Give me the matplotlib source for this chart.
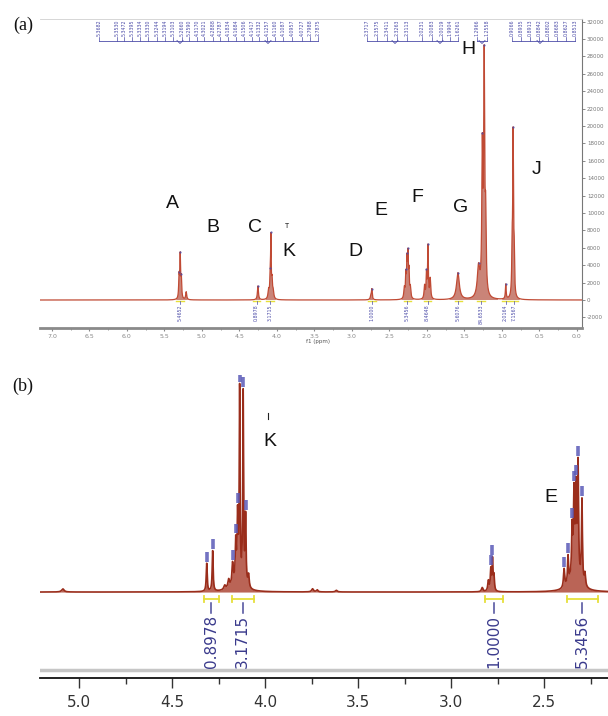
import numpy as np
import matplotlib
matplotlib.use("Agg")
import matplotlib.pyplot as plt
from matplotlib.lines import Line2D
from matplotlib.ticker import MultipleLocator, FormatStrFormatter

# ---------------------------------------------------------------- data (a)
a_shift = [5.305, 5.290, 5.275, 5.210, 4.253, 4.110, 4.090, 4.080, 4.065, 4.050,
           2.745, 2.733, 2.300, 2.280, 2.265, 2.252, 2.238, 2.220, 2.030, 2.005,
           1.985, 1.955, 1.585, 1.310, 1.260, 1.235, 1.215, 0.947, 0.862, 0.849, 0.835]
a_height = [2500, 4900, 2200, 900, 1600, 1000, 2000, 6800, 1800, 900,
            500, 1100, 1200, 2500, 4000, 4600, 2800, 1200, 1500, 2800,
            6000, 2300, 3100, 3500, 16000, 26500, 8000, 1700, 5000, 18300, 4500]
a_hwhm = [0.006, 0.006, 0.006, 0.008, 0.008, 0.010, 0.006, 0.005, 0.006, 0.010,
          0.010, 0.006, 0.008, 0.006, 0.006, 0.006, 0.006, 0.008, 0.008, 0.006,
          0.006, 0.008, 0.022, 0.020, 0.008, 0.008, 0.008, 0.006, 0.006, 0.006, 0.006]
a_letters = ["A", "B", "C", "T", "K", "D", "E", "F", "G", "H", "J"]
a_yticks = list(range(-2000, 32001, 2000))
a_top_labels = ["5.3682", "5.3530", "5.3472", "5.3395", "5.3334", "5.3330", "5.3244",
                "5.3194", "5.3103", "5.2660", "5.2590", "4.3170", "4.3021", "4.2888",
                "4.2787", "4.1834", "4.1684", "4.1506", "4.1417", "4.1332", "4.1257",
                "4.1160", "4.1087", "4.0957", "4.0727", "2.7988", "2.7875",
                "2.3717", "2.3575", "2.3411", "2.3263", "2.3113", "2.0231", "2.0083",
                "2.0019", "1.9904", "1.6261", "1.2966", "1.2558",
                "0.9066", "0.8935", "0.8913", "0.8842", "0.8802", "0.8683", "0.8627",
                "0.8513"]
a_integrals = ["5.4652", "0.8978", "3.1715", "1.0000", "5.3456", "8.4648",
               "5.6076", "84.6533", "2.0164", "7.1567"]
a_integral_ppm = [5.29, 4.27, 4.09, 2.73, 2.26, 1.99, 1.58, 1.28, 0.95, 0.84]
a_picks = [5.305, 5.290, 5.275, 4.253, 4.090, 4.080, 2.733, 2.280, 2.265, 2.252,
           2.005, 1.985, 1.585, 1.310, 1.260, 1.235, 0.947, 0.849]

# ---------------------------------------------------------------- data (b)
b_shift = [5.087, 4.314, 4.282, 4.217, 4.196, 4.175, 4.158, 4.148, 4.137, 4.118,
           4.105, 4.089, 4.150, 3.745, 3.720, 3.617, 2.833, 2.800, 2.787, 2.778,
           2.770, 2.393, 2.372, 2.350, 2.340, 2.329, 2.318, 2.297, 2.281, 2.335]
b_height = [1.5, 13.5, 19.5, 2, 4, 10, 18, 30, 92, 92,
            33, 6, 5, 1.5, 1.0, 0.8, 2, 5, 10, 15,
            7, 9, 13, 21, 34, 36, 52, 40, 6, 14]
b_hwhm = [0.008, 0.003, 0.003, 0.006, 0.005, 0.004, 0.003, 0.003, 0.0025, 0.0025,
          0.003, 0.004, 0.030, 0.006, 0.005, 0.006, 0.005, 0.004, 0.003, 0.003,
          0.003, 0.004, 0.003, 0.003, 0.003, 0.003, 0.003, 0.003, 0.004, 0.022]
b_picks = [4.314, 4.282, 4.175, 4.158, 4.148, 4.137, 4.118, 4.105, 2.787, 2.778,
           2.393, 2.372, 2.350, 2.340, 2.329, 2.318, 2.297]
b_integrals = ["0.8978", "3.1715", "1.0000", "5.3456"]
b_int_ranges = [(4.33, 4.25), (4.18, 4.06), (2.82, 2.72), (2.38, 2.21)]
b_letters = ["K", "E"]
b_ticks = [5.0, 4.5, 4.0, 3.5, 3.0, 2.5]

# ---------------------------------------------------------------- helpers
W, H = 608, 716
fig = plt.figure(figsize=(W / 100, H / 100), dpi=100)
BLUE = "#4c4ca8"
YEL = "#e6df3a"
SANS = ["Liberation Sans", "DejaVu Sans"]


def rect(l, t, r, b):
    return [l / W, 1 - b / H, (r - l) / W, (b - t) / H]


def fx(x):
    return x / W


def fy(y):
    return 1 - y / H


def fline(xs, ys, **kw):
    fig.add_artist(Line2D([fx(v) for v in xs], [fy(v) for v in ys],
                          transform=fig.transFigure, **kw))


def spectrum(x, shifts, heights, widths):
    y = np.zeros_like(x)
    for s, h, w in zip(shifts, heights, widths):
        y += h * w ** 2 / ((x - s) ** 2 + w ** 2)
    return y


# ---------------------------------------------------------------- panel (a)
axa = fig.add_axes(rect(40, 19, 582, 328))
xa = np.linspace(7.16, -0.07, 12000)
ya = spectrum(xa, a_shift, a_height, a_hwhm)
axa.plot(xa, ya, color="#c04a34", lw=0.9)
axa.fill_between(xa, 0, ya, where=ya > 150, color="#a8321f", alpha=0.6, lw=0)
pk = np.array(a_picks)
axa.plot(pk, spectrum(pk, a_shift, a_height, a_hwhm), "o", ms=1.6,
         color=BLUE, mec="none", alpha=0.8)
axa.set_xlim(7.16, -0.07)
axa.set_ylim(-3218, 32300)
axa.spines["left"].set_visible(False)
axa.spines["top"].set_color("#d0d0d0")
axa.spines["top"].set_linewidth(0.6)
axa.spines["right"].set_color("#777777")
axa.spines["right"].set_linewidth(0.8)
axa.spines["bottom"].set_color("#8a8a8a")
axa.spines["bottom"].set_linewidth(2.0)
axa.yaxis.tick_right()
axa.set_yticks(a_yticks)
axa.set_yticklabels([str(v) for v in a_yticks])
axa.tick_params(axis="y", direction="out", length=2, width=0.6, labelsize=4,
                colors="#777777", pad=1.5)
axa.xaxis.set_major_locator(MultipleLocator(0.5))
axa.xaxis.set_minor_locator(MultipleLocator(0.25))
axa.xaxis.set_major_formatter(FormatStrFormatter("%.1f"))
axa.tick_params(axis="x", which="major", direction="out", length=2.5, width=0.8,
                labelsize=4.5, colors="#888888", pad=2)
axa.tick_params(axis="x", which="minor", direction="out", length=1.5, width=0.6,
                colors="#888888")
fig.text(fx(318), fy(341), "f1 (ppm)", fontsize=4, color="#555555",
         ha="center", va="center")

# top peak-list labels (layout positions in px)
top_px = [99, 117, 124, 132, 140, 148, 157, 165, 173, 182, 189, 197, 204, 213, 220,
          228, 236, 244, 252, 259, 267, 275, 283, 292, 302, 310, 318,
          367, 377, 387, 397, 407, 422, 432, 442, 450, 458,
          477, 487,
          512, 521, 530, 539, 548, 557, 566, 575]
groups = [(0, 27), (27, 37), (37, 39), (39, 47)]
for s, x in zip(a_top_labels, top_px):
    fig.text(fx(x), fy(36.5), s, rotation=90, ha="center", va="bottom",
             fontsize=3.4, color=BLUE, family="DejaVu Sans")
    fline([x, x], [37, 40.5], color=BLUE, lw=0.5)
for g0, g1 in groups:
    xs = top_px[g0:g1]
    fline([xs[0], xs[-1]], [40.5, 40.5], color=BLUE, lw=0.6)
for vx in [180, 268, 395, 440, 482, 540]:
    fline([vx - 3, vx, vx + 3], [40.5, 43.5, 40.5], color=BLUE, lw=0.6)

# integration marks below baseline
for s, p in zip(a_integrals, a_integral_ppm):
    axa.plot([p + 0.05, p - 0.05], [-150, -150], color=YEL, lw=1.0)
    axa.plot([p, p], [-150, -500], color=BLUE, lw=0.5)
    axa.text(p, -520, s, rotation=90, ha="center", va="top", fontsize=3.4,
             color=BLUE)

# peak letters (layout positions in px)
a_letter_px = [(172, 203), (213, 228), (255, 228), (287, 227), (289, 252),
               (355, 252), (381, 211), (417, 197), (461, 208), (468, 49),
               (537, 170)]
for s, (x, y) in zip(a_letters, a_letter_px):
    fig.text(fx(x), fy(y), s, fontsize=(5 if s == "T" else 14), ha="center",
             va="center", family=SANS, color="#111111")
fig.text(fx(23), fy(25), "(a)", fontsize=13, ha="center", va="center",
         family=["Liberation Serif", "DejaVu Serif"], color="#111111")

# ---------------------------------------------------------------- panel (b)
axb = fig.add_axes(rect(40, 375, 608, 678))
xb = np.linspace(5.21, 2.157, 40000)
yb = spectrum(xb, b_shift, b_height, b_hwhm)
axb.fill_between(xb, 0, yb, color="#a3301d", alpha=0.75, lw=0)
axb.plot(xb, yb, color="#9a2d1b", lw=1.2)
bp = np.array(b_picks)
btop = spectrum(bp, b_shift, b_height, b_hwhm)
axb.vlines(bp, btop + 0.8, btop + 5.5, color="#5a5ab8", lw=2.6, alpha=0.85)
axb.set_xlim(5.21, 2.157)
axb.set_ylim(-41.5, 104.8)
for k in ["left", "top", "right"]:
    axb.spines[k].set_visible(False)
axb.spines["bottom"].set_color("#111111")
axb.spines["bottom"].set_linewidth(1.3)
axb.set_yticks([])
axb.set_xticks(b_ticks)
axb.set_xticklabels([f"{t:.1f}" for t in b_ticks])
axb.xaxis.set_minor_locator(MultipleLocator(0.25))
axb.tick_params(axis="x", which="major", direction="out", length=7, width=1.0,
                labelsize=11, colors="#333333", pad=5)
axb.tick_params(axis="x", which="minor", direction="out", length=4, width=1.0,
                colors="#333333")
axb.axhline(-37.7, color="#c6c6c6", lw=2.5)

for s, (hi, lo) in zip(b_integrals, b_int_ranges):
    c = (hi + lo) / 2
    axb.plot([hi, lo], [-3.4, -3.4], color=YEL, lw=1.3)
    axb.plot([hi, hi], [-5.0, -1.8], color=YEL, lw=1.3)
    axb.plot([lo, lo], [-5.0, -1.8], color=YEL, lw=1.3)
    axb.plot([c, c], [-5.5, -10.0], color="#4a4a9a", lw=1.1)
    axb.text(c, -11.0, s, rotation=90, ha="center", va="top", fontsize=11,
             color="#3a3a8c")

b_letter_px = [(270, 441), (551, 497)]
for s, (x, y) in zip(b_letters, b_letter_px):
    fig.text(fx(x), fy(y), s, fontsize=14, ha="center", va="center",
             family=SANS, color="#111111")
fline([268, 268], [413, 419], color="#222222", lw=0.8)
fig.text(fx(23), fy(386), "(b)", fontsize=13, ha="center", va="center",
         family=["Liberation Serif", "DejaVu Serif"], color="#111111")

fig.savefig("out.png", dpi=100)
